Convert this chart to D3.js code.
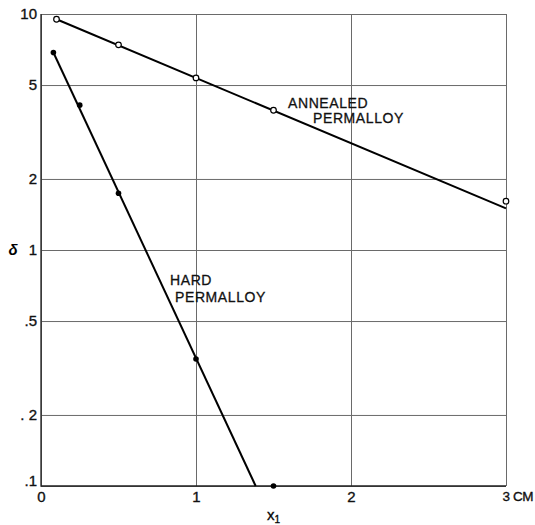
<!DOCTYPE html>
<html>
<head>
<meta charset="utf-8">
<script src="https://cdn.jsdelivr.net/npm/d3@7"></script>
<style>
  body { margin: 0; background: #fff; }
  svg { display: block; font-family: "Liberation Sans", Arial, sans-serif; }
  .grid line { stroke: #6a6a6a; stroke-width: 1; }
  .grid text { fill: #111; font-size: 15px; stroke: #111; stroke-width: 0.35px; }
  .label { fill: #111; font-size: 14px; letter-spacing: 0.6px; stroke: #111; stroke-width: 0.3px; }
</style>
</head>
<body>
<svg width="535" height="525"></svg>
<script>
"use strict";

// Measured points (x1 in cm, delta)
var annealedX = [0.1, 0.5, 1.0, 1.5, 3.0];
var annealedY = [9.5, 7.4, 5.36, 3.91, 1.61];
var hardX = [0.08, 0.25, 0.5, 1.0, 1.5];
var hardY = [6.87, 4.11, 1.74, 0.345, 0.1];

// Straight lines drawn through the points
var annealedFitX = [0.1, 3.0];
var annealedFitY = [9.5, 1.5];
var hardFitX = [0.08, 1.385];
var hardFitY = [6.87, 0.1];

// Tick values and labels
var yTicks = [10, 5, 2, 1, 0.5, 0.2, 0.1];
var yTickLabels = ["10", "5", "2", "1", ".5", ". 2", ".1"];
var xTicks = [0, 1, 2, 3];
var xTickLabels = ["0", "1", "2", "3 CM"];

var svg = d3.select("svg");

var xScale = d3.scaleLinear()
    .domain([0, 3])
    .range([41, 506]);

var yScale = d3.scaleLog()
    .domain([0.1, 10])
    .range([486, 14]);

// Horizontal grid + y labels
var yAxis = d3.axisLeft(yScale)
    .tickValues(yTicks)
    .tickSize(-(xScale.range()[1] - xScale.range()[0]))
    .tickPadding(4)
    .tickFormat(function (d, i) { return yTickLabels[i]; });

svg.append("g")
    .attr("class", "grid")
    .attr("transform", "translate(" + xScale.range()[0] + ",0)")
    .call(yAxis)
    .call(function (g) { g.select(".domain").remove(); })
    .call(function (g) {
        g.selectAll("text")
            .filter(function (d) { return d === 0.1; })
            .attr("dy", "-0.05em");
    });

// Vertical grid + x labels
var xAxis = d3.axisBottom(xScale)
    .tickValues(xTicks)
    .tickSize(-(yScale.range()[0] - yScale.range()[1]))
    .tickPadding(5)
    .tickFormat(function (d, i) { return xTickLabels[i]; });

svg.append("g")
    .attr("class", "grid")
    .attr("transform", "translate(0," + yScale.range()[0] + ")")
    .call(xAxis)
    .call(function (g) { g.select(".domain").remove(); })
    .call(function (g) {
        // last label sits tight against the right edge
        g.selectAll("text")
            .filter(function (d) { return d === 3; })
            .attr("text-anchor", "start")
            .attr("dx", "-4")
            .style("font-size", "13.5px")
            .style("letter-spacing", "-0.4px");
    });

// Frame on left and bottom a bit darker
svg.append("path")
    .attr("d", "M" + xScale(0) + "," + yScale(10) + "V" + yScale(0.1) + "H" + xScale(3))
    .attr("fill", "none")
    .attr("stroke", "#222")
    .attr("stroke-width", 1.3);

// Axis titles
svg.append("text")
    .attr("x", 13)
    .attr("y", yScale(1) + 5)
    .attr("text-anchor", "middle")
    .style("font-size", "15px")
    .style("font-style", "italic")
    .style("font-weight", "bold")
    .text("δ");

svg.append("text")
    .attr("x", xScale(1.5))
    .attr("y", 520)
    .attr("text-anchor", "middle")
    .style("font-size", "15px")
    .style("stroke", "#111")
    .style("stroke-width", "0.35px")
    .text("x")
    .append("tspan")
        .attr("dy", 3)
        .style("font-size", "10px")
        .text("1");

var line = d3.line()
    .x(function (d) { return xScale(d[0]); })
    .y(function (d) { return yScale(d[1]); });

// Fitted lines
svg.append("path")
    .datum(d3.zip(annealedFitX, annealedFitY))
    .attr("d", line)
    .attr("fill", "none")
    .attr("stroke", "#000")
    .attr("stroke-width", 2);

svg.append("path")
    .datum(d3.zip(hardFitX, hardFitY))
    .attr("d", line)
    .attr("fill", "none")
    .attr("stroke", "#000")
    .attr("stroke-width", 2);

// Annealed points: open circles
svg.append("g")
    .selectAll("circle")
    .data(d3.zip(annealedX, annealedY))
    .enter().append("circle")
        .attr("cx", function (d) { return xScale(d[0]); })
        .attr("cy", function (d) { return yScale(d[1]); })
        .attr("r", 2.8)
        .attr("fill", "#fff")
        .attr("stroke", "#000")
        .attr("stroke-width", 1.2);

// Hard points: filled dots
svg.append("g")
    .selectAll("circle")
    .data(d3.zip(hardX, hardY))
    .enter().append("circle")
        .attr("cx", function (d) { return xScale(d[0]); })
        .attr("cy", function (d) { return yScale(d[1]); })
        .attr("r", 2.8)
        .attr("fill", "#000");

// Curve labels
svg.append("text").attr("class", "label").attr("x", 288).attr("y", 108).text("ANNEALED");
svg.append("text").attr("class", "label").attr("x", 313).attr("y", 123).text("PERMALLOY");
svg.append("text").attr("class", "label").attr("x", 170).attr("y", 285).text("HARD");
svg.append("text").attr("class", "label").attr("x", 175).attr("y", 302).text("PERMALLOY");
</script>
</body>
</html>
